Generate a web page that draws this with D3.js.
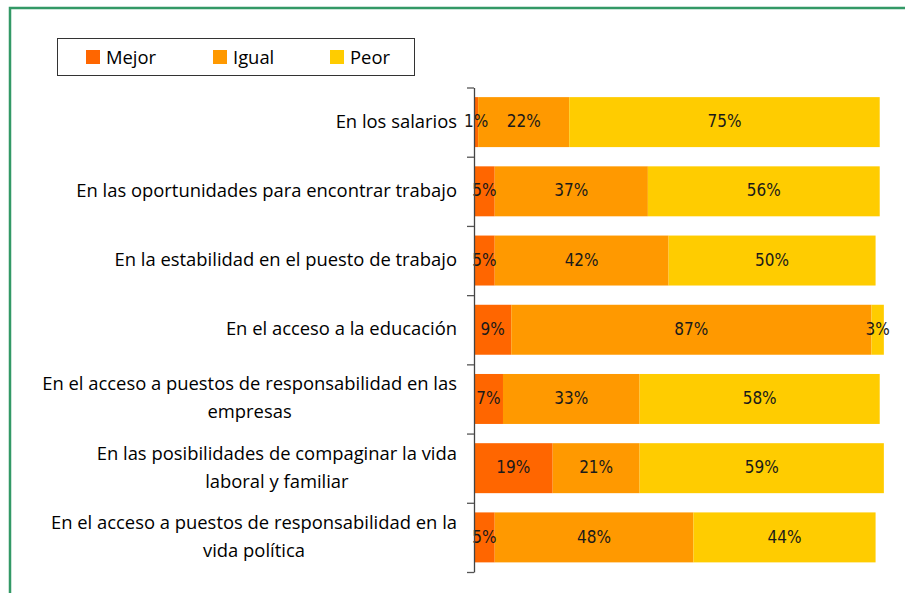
<!DOCTYPE html>
<html lang="es">
<head>
<meta charset="utf-8">
<title>Mejor Igual Peor</title>
<script src="https://cdn.jsdelivr.net/npm/d3@7"></script>
<style>
body { margin: 0; background: #fff; }
</style>
</head>
<body>
<script>

// categories, one entry per bar (line breaks as in the original)
var categories = [
  ["En los salarios"],
  ["En las oportunidades para encontrar trabajo"],
  ["En la estabilidad en el puesto de trabajo"],
  ["En el acceso a la educación"],
  ["En el acceso a puestos de responsabilidad en las", "empresas"],
  ["En las posibilidades de compaginar la vida", "laboral y familiar"],
  ["En el acceso a puestos de responsabilidad en la", "vida política"]
]
var mejor = [1, 5, 5, 9, 7, 19, 5]
var igual = [22, 37, 42, 87, 33, 21, 48]
var peor  = [75, 56, 50, 3, 58, 59, 44]
var seriesNames = ["Mejor", "Igual", "Peor"]
var seriesColors = ["#FF6600", "#FF9900", "#FFCC00"]

var width = 905, height = 593
var labelFont = "'Open Sans', 'Noto Sans', sans-serif"

var rows = categories.map(function(c, i){
  return {key: i, Mejor: mejor[i], Igual: igual[i], Peor: peor[i]}
})
var stacked = d3.stack().keys(seriesNames)(rows)

var svg = d3.select("body").append("svg")
  .attr("width", width)
  .attr("height", height)

// green frame (only top and left edges are visible in the crop)
svg.append("path")
  .attr("d", "M10," + height + "V8H" + width)
  .attr("fill", "none")
  .attr("stroke", "#339966")
  .attr("stroke-width", 2.5)

var x = d3.scaleLinear().domain([0, 100]).range([474, 888])
var y = d3.scaleBand().domain(d3.range(categories.length))
  .range([87.5, 572]).paddingInner(0.278).paddingOuter(0.139)
var color = d3.scaleOrdinal().domain(seriesNames).range(seriesColors)

// bars
var layer = svg.selectAll("g.layer").data(stacked).enter().append("g")
  .attr("class", "layer")
  .attr("fill", function(d){ return color(d.key) })

layer.selectAll("rect").data(function(d){ return d }).enter().append("rect")
  .attr("x", function(d){ return x(d[0]) })
  .attr("width", function(d){ return x(d[1]) - x(d[0]) })
  .attr("y", function(d, i){ return y(i) })
  .attr("height", y.bandwidth())

// value labels, on top of all the bars
var valueLayer = svg.selectAll("g.values").data(stacked).enter().append("g")
  .attr("class", "values")

valueLayer.selectAll("text").data(function(d){ return d }).enter().append("text")
  .attr("x", function(d){ return (x(d[0]) + x(d[1])) / 2 })
  .attr("y", function(d, i){ return y(i) + y.bandwidth() / 2 - 1 })
  .attr("dy", "0.36em")
  .attr("text-anchor", "middle")
  .attr("fill", "#1a1a1a")
  .style("font-family", "'DejaVu Sans Condensed', 'DejaVu Sans', sans-serif")
  .style("font-stretch", "condensed")
  .style("font-size", "17px")
  .text(function(d){ return Math.round(d[1] - d[0]) + "%" })

// category axis: line with ticks between categories
var yEdge = d3.scaleLinear().domain([0, categories.length]).range([87.5, 572])
svg.append("g")
  .attr("transform", "translate(474,0)")
  .call(d3.axisLeft(yEdge).tickValues(d3.range(categories.length + 1))
    .tickSize(7).tickSizeOuter(0).tickFormat(""))
  .call(function(g){
    g.select(".domain").attr("stroke", "#444").attr("stroke-width", 1.3)
    g.selectAll(".tick line").attr("stroke", "#555").attr("stroke-width", 1.3)
  })

// category labels
var labels = svg.selectAll("text.cat").data(categories).enter().append("text")
  .attr("class", "cat")
  .attr("fill", "#000")
  .style("font-family", labelFont)
  .style("font-size", "18.4px")

labels.each(function(lines, i){
  var t = d3.select(this)
  var cy = y(i) + y.bandwidth() / 2
  var lh = 28
  var y0 = cy - (lines.length - 1) * lh / 2 - 1
  lines.forEach(function(line, j){
    t.append("tspan")
      .attr("y", y0 + j * lh)
      .attr("dy", "0.35em")
      .text(line)
  })
  // right align the block, centre each line inside it
  var w = d3.max(t.selectAll("tspan").nodes(), function(n){ return n.getComputedTextLength() })
  var right = 457
  t.selectAll("tspan")
    .attr("x", right - w / 2)
    .attr("text-anchor", "middle")
})

// legend
var legend = svg.append("g")
svg.insert("rect", "g")
  .attr("x", 57.5).attr("y", 38.5)
  .attr("width", 357).attr("height", 37)
  .attr("fill", "#fff")
  .attr("stroke", "#333")
  .attr("stroke-width", 1)

var legendX = [86, 213, 330]
var item = legend.selectAll("g").data(seriesNames).enter().append("g")
  .attr("transform", function(d, i){ return "translate(" + legendX[i] + ",50)" })
item.append("rect")
  .attr("width", 14).attr("height", 14)
  .attr("fill", function(d){ return color(d) })
item.append("text")
  .attr("x", 20).attr("y", 7).attr("dy", "0.36em")
  .attr("fill", "#000")
  .style("font-family", labelFont)
  .style("font-size", "18.4px")
  .text(function(d){ return d })

</script>
</body>
</html>
